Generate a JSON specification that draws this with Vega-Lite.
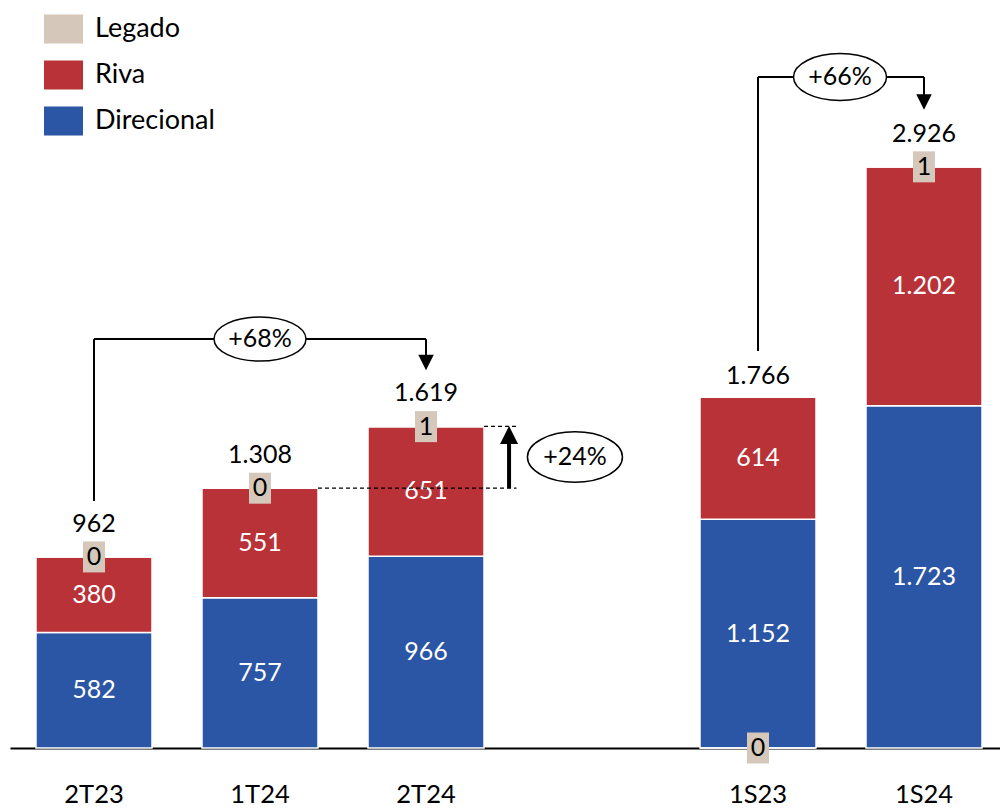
{
  "$schema": "https://vega.github.io/schema/vega-lite/v6.json",
  "width": 990,
  "height": 748,
  "padding": {"left": 10, "top": 0, "right": 0, "bottom": 0},
  "config": {
    "view": {"stroke": null},
    "font": "Lato",
    "locale": {"number": {"decimal": ",", "thousands": ".", "grouping": [3], "currency": ["R$", ""]}},
    "axisX": {"labelFontSize": 25.5, "labelFont": "Lato", "labelColor": "black", "domainColor": "black", "domainWidth": 2, "ticks": false, "grid": false, "labelPadding": 34, "labelAngle": 0},
    "text": {"font": "Lato", "fontSize": 25}
  },
  "datasets": {
    "segments": [
      {"cat": "2T23", "series": "Direcional", "value": 582, "ord": 1},
      {"cat": "2T23", "series": "Riva", "value": 380, "ord": 2},
      {"cat": "2T23", "series": "Legado", "value": 0, "ord": 3},
      {"cat": "1T24", "series": "Direcional", "value": 757, "ord": 1},
      {"cat": "1T24", "series": "Riva", "value": 551, "ord": 2},
      {"cat": "1T24", "series": "Legado", "value": 0, "ord": 3},
      {"cat": "2T24", "series": "Direcional", "value": 966, "ord": 1},
      {"cat": "2T24", "series": "Riva", "value": 651, "ord": 2},
      {"cat": "2T24", "series": "Legado", "value": 1, "ord": 3},
      {"cat": "1S23", "series": "Direcional", "value": 1152, "ord": 1},
      {"cat": "1S23", "series": "Riva", "value": 614, "ord": 2},
      {"cat": "1S23", "series": "Legado", "value": 0, "ord": 0},
      {"cat": "1S24", "series": "Direcional", "value": 1723, "ord": 1},
      {"cat": "1S24", "series": "Riva", "value": 1202, "ord": 2},
      {"cat": "1S24", "series": "Legado", "value": 1, "ord": 3}
    ],
    "totals": [
      {"cat": "2T23", "total": 962},
      {"cat": "1T24", "total": 1308},
      {"cat": "2T24", "total": 1619},
      {"cat": "1S23", "total": 1766},
      {"cat": "1S24", "total": 2926}
    ]
  },
  "layer": [
    {
      "data": {"name": "segments"},
      "mark": {"type": "bar", "stroke": "white", "strokeWidth": 1.5},
      "encoding": {
        "x": {"field": "cat", "type": "nominal", "title": null, "scale": {"type": "band", "domain": ["2T23", "1T24", "2T24", " ", "1S23", "1S24"], "paddingInner": 0.3012, "paddingOuter": 0.1325, "align": 0.591}},
        "y": {"field": "value", "type": "quantitative", "stack": "zero", "axis": null, "scale": {"domain": [0, 3766], "nice": false, "zero": true}},
        "color": {"field": "series", "type": "nominal", "scale": {"domain": ["Legado", "Riva", "Direcional"], "range": ["#D5C8BA", "#B83238", "#2B55A5"]},
          "legend": {"title": null, "orient": "none", "legendX": 34, "legendY": 9.5, "symbolType": "M-1,-0.744L1,-0.744L1,0.744L-1,0.744Z", "symbolSize": 1521, "symbolStrokeWidth": 0, "symbolOpacity": 1, "labelFontSize": 27, "labelFont": "Lato", "labelColor": "black", "labelOffset": 12, "rowPadding": 11, "padding": 0}},
        "order": {"field": "ord", "type": "quantitative"}
      }
    },
    {
      "data": {"name": "segments"},
      "transform": [{"filter": "datum.series !== 'Legado'"}],
      "mark": {"type": "text", "color": "white", "fontSize": 25, "baseline": "middle"},
      "encoding": {
        "x": {"field": "cat", "type": "nominal", "title": null, "scale": {"type": "band", "domain": ["2T23", "1T24", "2T24", " ", "1S23", "1S24"], "paddingInner": 0.3012, "paddingOuter": 0.1325, "align": 0.591}},
        "y": {"field": "value", "type": "quantitative", "stack": "zero", "bandPosition": 0.5, "axis": null, "scale": {"domain": [0, 3766], "nice": false, "zero": true}},
        "detail": {"field": "series", "type": "nominal"},
        "order": {"field": "ord", "type": "quantitative"},
        "text": {"field": "value", "type": "quantitative", "format": ",.0f"}
      }
    },
    {
      "data": {"name": "segments"},
      "transform": [
        {"stack": "value", "groupby": ["cat"], "sort": [{"field": "ord", "order": "ascending"}], "as": ["v0", "v1"]},
        {"filter": "datum.series === 'Legado'"}
      ],
      "encoding": {
        "x": {"field": "cat", "type": "nominal", "title": null, "scale": {"type": "band", "domain": ["2T23", "1T24", "2T24", " ", "1S23", "1S24"], "paddingInner": 0.3012, "paddingOuter": 0.1325, "align": 0.591}},
        "y": {"field": "v1", "type": "quantitative", "axis": null, "scale": {"domain": [0, 3766], "nice": false, "zero": true}}
      },
      "layer": [
        {"mark": {"type": "point", "shape": "M-0.71,-1L0.71,-1L0.71,1L-0.71,1Z", "size": 961, "filled": true, "fill": "#D5C8BA", "opacity": 1, "strokeWidth": 0}},
        {"mark": {"type": "text", "color": "black", "fontSize": 25, "baseline": "middle"}, "encoding": {"text": {"field": "value", "type": "quantitative", "format": ",.0f"}}}
      ]
    },
    {
      "data": {"name": "totals"},
      "transform": [{"filter": "datum.cat !== '1S23'"}],
      "mark": {"type": "text", "color": "black", "fontSize": 25, "baseline": "middle", "dy": -33},
      "encoding": {
        "x": {"field": "cat", "type": "nominal", "title": null, "scale": {"type": "band", "domain": ["2T23", "1T24", "2T24", " ", "1S23", "1S24"], "paddingInner": 0.3012, "paddingOuter": 0.1325, "align": 0.591}},
        "y": {"field": "total", "type": "quantitative", "axis": null, "scale": {"domain": [0, 3766], "nice": false, "zero": true}},
        "text": {"field": "total", "type": "quantitative", "format": ",.0f"}
      }
    },
    {
      "data": {"name": "totals"},
      "transform": [{"filter": "datum.cat === '1S23'"}],
      "mark": {"type": "text", "color": "black", "fontSize": 25, "baseline": "middle", "dy": -21},
      "encoding": {
        "x": {"field": "cat", "type": "nominal", "title": null, "scale": {"type": "band", "domain": ["2T23", "1T24", "2T24", " ", "1S23", "1S24"], "paddingInner": 0.3012, "paddingOuter": 0.1325, "align": 0.591}},
        "y": {"field": "total", "type": "quantitative", "axis": null, "scale": {"domain": [0, 3766], "nice": false, "zero": true}},
        "text": {"field": "total", "type": "quantitative", "format": ",.0f"}
      }
    },
    {
      "data": {"values": [{"from": "2T23", "to": "2T24", "level": 2059}, {"from": "1S23", "to": "1S24", "level": 3378}]},
      "mark": {"type": "rule", "color": "black", "strokeWidth": 2},
      "encoding": {
        "x": {"field": "from", "type": "nominal", "title": null, "scale": {"type": "band", "domain": ["2T23", "1T24", "2T24", " ", "1S23", "1S24"], "paddingInner": 0.3012, "paddingOuter": 0.1325, "align": 0.591}},
        "x2": {"field": "to"},
        "y": {"field": "level", "type": "quantitative", "axis": null, "scale": {"domain": [0, 3766], "nice": false, "zero": true}}
      }
    },
    {
      "data": {"values": [
        {"cat": "2T23", "start": 1244, "end": 2059},
        {"cat": "2T24", "start": 2059, "end": 1941},
        {"cat": "1S23", "start": 1999, "end": 3378},
        {"cat": "1S24", "start": 3378, "end": 3252}
      ]},
      "mark": {"type": "rule", "color": "black", "strokeWidth": 2},
      "encoding": {
        "x": {"field": "cat", "type": "nominal", "title": null, "scale": {"type": "band", "domain": ["2T23", "1T24", "2T24", " ", "1S23", "1S24"], "paddingInner": 0.3012, "paddingOuter": 0.1325, "align": 0.591}},
        "y": {"field": "start", "type": "quantitative", "axis": null, "scale": {"domain": [0, 3766], "nice": false, "zero": true}},
        "y2": {"field": "end"}
      }
    },
    {
      "data": {"values": [{"cat": "2T24", "tip": 1941}, {"cat": "1S24", "tip": 3252}]},
      "mark": {"type": "point", "shape": "M-1,-1L1,-1L0,1Z", "size": 240, "filled": true, "fill": "black", "opacity": 1, "strokeWidth": 0},
      "encoding": {
        "x": {"field": "cat", "type": "nominal", "title": null, "scale": {"type": "band", "domain": ["2T23", "1T24", "2T24", " ", "1S23", "1S24"], "paddingInner": 0.3012, "paddingOuter": 0.1325, "align": 0.591}},
        "y": {"field": "tip", "type": "quantitative", "axis": null, "scale": {"domain": [0, 3766], "nice": false, "zero": true}}
      }
    },
    {
      "data": {"values": [{"from": "2T24", "to": "2T24", "level": 1619}, {"from": "1T24", "to": "2T24", "level": 1308}]},
      "mark": {"type": "rule", "color": "black", "strokeWidth": 1.3, "strokeDash": [4, 3]},
      "encoding": {
        "x": {"field": "from", "type": "nominal", "title": null, "bandPosition": 1, "scale": {"type": "band", "domain": ["2T23", "1T24", "2T24", " ", "1S23", "1S24"], "paddingInner": 0.3012, "paddingOuter": 0.1325, "align": 0.591}},
        "x2": {"field": "to", "bandPosition": 1.28},
        "y": {"field": "level", "type": "quantitative", "axis": null, "scale": {"domain": [0, 3766], "nice": false, "zero": true}}
      }
    },
    {
      "data": {"values": [{"cat": "2T24", "start": 1308, "end": 1585, "tip": 1576}]},
      "encoding": {
        "x": {"field": "cat", "type": "nominal", "title": null, "bandPosition": 1.216, "scale": {"type": "band", "domain": ["2T23", "1T24", "2T24", " ", "1S23", "1S24"], "paddingInner": 0.3012, "paddingOuter": 0.1325, "align": 0.591}}
      },
      "layer": [
        {"mark": {"type": "rule", "color": "black", "strokeWidth": 4},
         "encoding": {"y": {"field": "start", "type": "quantitative", "axis": null, "scale": {"domain": [0, 3766], "nice": false, "zero": true}}, "y2": {"field": "end"}}},
        {"mark": {"type": "point", "shape": "M-1,1L1,1L0,-1Z", "size": 324, "filled": true, "fill": "black", "opacity": 1, "strokeWidth": 0},
         "encoding": {"y": {"field": "tip", "type": "quantitative", "axis": null, "scale": {"domain": [0, 3766], "nice": false, "zero": true}}}}
      ]
    },
    {
      "data": {"values": [{"cat": "1T24", "level": 2059, "label": "+68%"}]},
      "encoding": {
        "x": {"field": "cat", "type": "nominal", "title": null, "scale": {"type": "band", "domain": ["2T23", "1T24", "2T24", " ", "1S23", "1S24"], "paddingInner": 0.3012, "paddingOuter": 0.1325, "align": 0.591}},
        "y": {"field": "level", "type": "quantitative", "axis": null, "scale": {"domain": [0, 3766], "nice": false, "zero": true}}
      },
      "layer": [
        {"mark": {"type": "point", "shape": "M-1,0C-1,-0.265,-0.552,-0.48,0,-0.48C0.552,-0.48,1,-0.265,1,0C1,0.265,0.552,0.48,0,0.48C-0.552,0.48,-1,0.265,-1,0Z", "size": 8464, "filled": true, "fill": "white", "stroke": "black", "strokeWidth": 1.5, "opacity": 1}},
        {"mark": {"type": "text", "color": "black", "fontSize": 25, "baseline": "middle"}, "encoding": {"text": {"field": "label"}}}
      ]
    },
    {
      "data": {"values": [{"cat": "2T24", "level": 1465, "label": "+24%"}]},
      "encoding": {
        "x": {"field": "cat", "type": "nominal", "title": null, "bandPosition": 1.784, "scale": {"type": "band", "domain": ["2T23", "1T24", "2T24", " ", "1S23", "1S24"], "paddingInner": 0.3012, "paddingOuter": 0.1325, "align": 0.591}},
        "y": {"field": "level", "type": "quantitative", "axis": null, "scale": {"domain": [0, 3766], "nice": false, "zero": true}}
      },
      "layer": [
        {"mark": {"type": "point", "shape": "M-1,0C-1,-0.293,-0.552,-0.53,0,-0.53C0.552,-0.53,1,-0.293,1,0C1,0.293,0.552,0.53,0,0.53C-0.552,0.53,-1,0.293,-1,0Z", "size": 9025, "filled": true, "fill": "white", "stroke": "black", "strokeWidth": 1.5, "opacity": 1}},
        {"mark": {"type": "text", "color": "black", "fontSize": 25, "baseline": "middle"}, "encoding": {"text": {"field": "label"}}}
      ]
    },
    {
      "data": {"values": [{"cat": "1S23", "level": 3378, "label": "+66%"}]},
      "encoding": {
        "x": {"field": "cat", "type": "nominal", "title": null, "bandPosition": 1.207, "scale": {"type": "band", "domain": ["2T23", "1T24", "2T24", " ", "1S23", "1S24"], "paddingInner": 0.3012, "paddingOuter": 0.1325, "align": 0.591}},
        "y": {"field": "level", "type": "quantitative", "axis": null, "scale": {"domain": [0, 3766], "nice": false, "zero": true}}
      },
      "layer": [
        {"mark": {"type": "point", "shape": "M-1,0C-1,-0.279,-0.552,-0.505,0,-0.505C0.552,-0.505,1,-0.279,1,0C1,0.279,0.552,0.505,0,0.505C-0.552,0.505,-1,0.279,-1,0Z", "size": 8649, "filled": true, "fill": "white", "stroke": "black", "strokeWidth": 1.5, "opacity": 1}},
        {"mark": {"type": "text", "color": "black", "fontSize": 25, "baseline": "middle"}, "encoding": {"text": {"field": "label"}}}
      ]
    }
  ]
}
